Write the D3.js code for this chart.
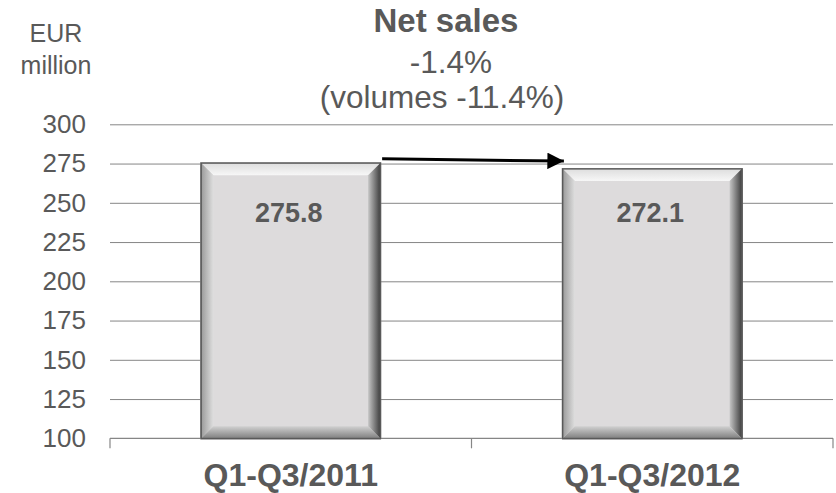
<!DOCTYPE html>
<html>
<head>
<meta charset="utf-8">
<script src="https://cdn.jsdelivr.net/npm/d3@7/dist/d3.min.js"></script>
<style>
  html, body { margin: 0; padding: 0; background: #ffffff; }
  svg { display: block; font-family: "Liberation Sans", Arial, sans-serif; }
</style>
</head>
<body>
<svg id="chart" width="836" height="493"></svg>
<script>
// ---- data ----
const categories = ["Q1-Q3/2011", "Q1-Q3/2012"];
const netSales = [275.8, 272.1];
const valueLabels = ["275.8", "272.1"];
const yTicks = [100, 125, 150, 175, 200, 225, 250, 275, 300];
const unitLines = ["EUR", "million"];
const titleText = "Net sales";
const subtitleLines = ["-1.4%", "(volumes -11.4%)"];

// ---- layout ----
const plotLeft = 110, plotRight = 833, plotTop = 124.3, plotBottom = 438.3;
const textColor = "#595959";
const gridColor = "#868686";

const svg = d3.select("#chart");

const x = d3.scaleBand().domain(categories).range([plotLeft, plotRight])
  .paddingInner(0.5).paddingOuter(0.25);
const y = d3.scaleLinear().domain([100, 300]).range([plotBottom, plotTop]);

// gradients for bevel
const defs = svg.append("defs");
function grad(id, x1, y1, x2, y2, c1, c2) {
  const g = defs.append("linearGradient").attr("id", id)
    .attr("x1", x1).attr("y1", y1).attr("x2", x2).attr("y2", y2);
  g.append("stop").attr("offset", "0%").attr("stop-color", c1);
  g.append("stop").attr("offset", "100%").attr("stop-color", c2);
}
grad("gTop", 0, 0, 0, 1, "#dcdcdc", "#f7f7f7");
grad("gLeft", 0, 0, 1, 0, "#969696", "#dedede");
grad("gRight", 1, 0, 0, 0, "#353535", "#c6c6c6");
grad("gBottom", 0, 1, 0, 0, "#7a7a7a", "#d0d0d0");

// y axis with gridlines
const yAxis = svg.append("g")
  .attr("transform", `translate(${plotLeft},0)`)
  .call(d3.axisLeft(y).tickValues(yTicks).tickSize(-(plotRight - plotLeft)).tickPadding(24));
yAxis.select(".domain").remove();
yAxis.selectAll(".tick line").attr("stroke", gridColor).attr("stroke-width", 1);
yAxis.selectAll(".tick text")
  .attr("fill", textColor)
  .style("font-size", "26px")
  .style("font-family", "'Liberation Sans', Arial, sans-serif");
yAxis.selectAll(".tick").filter(d => d === 100).select("line").remove();

// bottom axis
const xAxis = svg.append("g")
  .attr("transform", `translate(0,${plotBottom})`)
  .call(d3.axisBottom(x).tickSize(0).tickPadding(0));
xAxis.select(".domain").remove();
xAxis.append("line")
  .attr("x1", plotLeft).attr("x2", plotRight).attr("y1", 0).attr("y2", 0)
  .attr("stroke", gridColor).attr("stroke-width", 1.2);
const bounds = [plotLeft].concat(categories.map(c => x(c) + x.bandwidth() + x.step() * x.paddingInner() / 2));
bounds[bounds.length - 1] = plotRight;
xAxis.selectAll(".bound").data(bounds).enter().append("line")
  .attr("class", "bound")
  .attr("x1", d => d).attr("x2", d => d).attr("y1", 0).attr("y2", 10)
  .attr("stroke", gridColor).attr("stroke-width", 1.2);
xAxis.selectAll(".tick text")
  .attr("y", 48).attr("dy", 0)
  .attr("fill", textColor)
  .style("font-size", "32px").style("font-weight", "bold")
  .style("font-family", "'Liberation Sans', Arial, sans-serif");

// bars with bevel
const b = 13;
const bars = svg.append("g").selectAll("g.bar")
  .data(categories.map((c, i) => ({ c, v: netSales[i], label: valueLabels[i] })))
  .enter().append("g").attr("class", "bar");

bars.each(function(d) {
  const g = d3.select(this);
  const x0 = x(d.c), x1 = x0 + x.bandwidth();
  const y0 = y(d.v), y1 = y(100) + 1;
  g.append("rect").attr("x", x0).attr("y", y0).attr("width", x1 - x0).attr("height", y1 - y0)
    .attr("fill", "#dddbdc");
  const pts = a => a.map(p => p.join(",")).join(" ");
  g.append("polygon").attr("points", pts([[x0, y0], [x1, y0], [x1 - b, y0 + b], [x0 + b, y0 + b]])).attr("fill", "url(#gTop)");
  g.append("polygon").attr("points", pts([[x0, y0], [x0 + b, y0 + b], [x0 + b, y1 - b], [x0, y1]])).attr("fill", "url(#gLeft)");
  g.append("polygon").attr("points", pts([[x1, y0], [x1, y1], [x1 - b, y1 - b], [x1 - b, y0 + b]])).attr("fill", "url(#gRight)");
  g.append("polygon").attr("points", pts([[x0, y1], [x0 + b, y1 - b], [x1 - b, y1 - b], [x1, y1]])).attr("fill", "url(#gBottom)");
  g.append("rect").attr("x", x0 + 0.75).attr("y", y0 + 0.75).attr("width", x1 - x0 - 1.5).attr("height", y1 - y0 - 1.5)
    .attr("fill", "none").attr("stroke", "#595959").attr("stroke-width", 1.5);
  g.append("text")
    .attr("x", (x0 + x1) / 2 - 2).attr("y", 221.5)
    .attr("text-anchor", "middle")
    .attr("fill", textColor)
    .style("font-size", "27px").style("font-weight", "bold")
    .text(d.label);
});

// arrow
defs.append("marker").attr("id", "arrowHead")
  .attr("viewBox", "0 0 10 10").attr("refX", 10).attr("refY", 5)
  .attr("markerWidth", 5.5).attr("markerHeight", 5.5).attr("markerUnits", "strokeWidth")
  .attr("orient", "auto")
  .append("path").attr("d", "M0,0 L10,5 L0,10 Z").attr("fill", "#000");
svg.append("line")
  .attr("x1", x(categories[0]) + x.bandwidth() + 1).attr("y1", y(netSales[0]) - 3.5)
  .attr("x2", x(categories[1]) + 2).attr("y2", y(netSales[1]) - 7)
  .attr("stroke", "#000").attr("stroke-width", 3)
  .attr("marker-end", "url(#arrowHead)");

// unit label
svg.append("text").attr("text-anchor", "middle").attr("fill", textColor)
  .style("font-size", "25px")
  .selectAll("tspan").data(unitLines).enter().append("tspan")
  .attr("x", 56).attr("y", (d, i) => 41.5 + i * 32.5).text(d => d);

// title and subtitles
svg.append("text").attr("x", 446).attr("y", 31.5).attr("text-anchor", "middle")
  .attr("fill", textColor).style("font-size", "33px").style("font-weight", "bold")
  .text(titleText);
svg.append("text").attr("text-anchor", "middle").attr("fill", textColor)
  .style("font-size", "31.5px")
  .selectAll("tspan").data(subtitleLines).enter().append("tspan")
  .attr("x", (d, i) => i === 0 ? 451 : 442)
  .attr("y", (d, i) => 72.5 + i * 35)
  .text(d => d);
</script>
</body>
</html>
